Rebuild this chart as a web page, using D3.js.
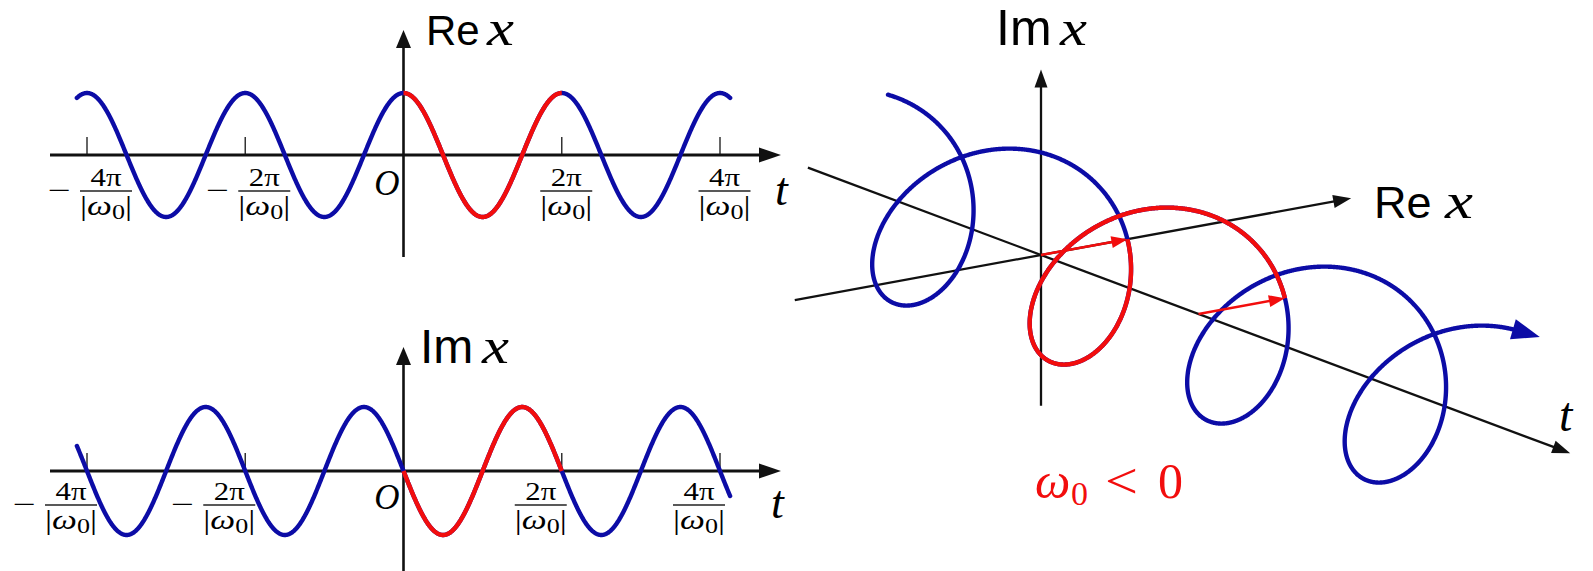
<!DOCTYPE html>
<html>
<head>
<meta charset="utf-8">
<script src="https://cdn.jsdelivr.net/npm/d3@7"></script>
<style>
  html, body { margin: 0; padding: 0; background: #ffffff; }
  svg { display: block; }
</style>
</head>
<body>
<svg id="fig" width="1593" height="571"></svg>
<script>
// ---- data -------------------------------------------------------------
// t is measured in periods, i.e. in units of 2π/|ω0|
const tickPeriods   = [-2, -1, 1, 2];
const tickNumerator = ["4π", "2π", "2π", "4π"];
const tickSign      = ["−", "−", "", ""];
const waveSpan      = [-2.064, 2.064];   // plotted span of the 2D waves
const highlightSpan = [0, 1];            // one period from t = 0, drawn in red
const helixSpan     = [-1.186, 2.815];   // plotted span of the helix
const reAxisSpan    = [-2.85, 3.59];     // 3D axis extents (in helix-radius units)
const tAxisSpan     = [-1.48, 3.36];     // (in periods)
const imAxisSpan    = [-1.65, 2.03];     // (in helix-radius units)
const omegaSign     = -1;                // ω0 < 0

// x(t) = exp(i ω0 t)
const reX = p => Math.cos(2 * Math.PI * p);
const imX = p => omegaSign * Math.sin(2 * Math.PI * p);

const BLUE = "#0c0ca6";
const RED  = "#f20d0d";
const INK  = "#111111";
const SANS = "'Liberation Sans', Arial, Helvetica, sans-serif";
const SERIF = "'Liberation Serif', 'Times New Roman', serif";

const svg = d3.select("#fig");
const line = d3.line().x(d => d[0]).y(d => d[1]);

function arrowHead(g, tip, dir, len, half, color) {
  const n = Math.hypot(dir[0], dir[1]);
  const ux = dir[0] / n, uy = dir[1] / n;
  const bx = tip[0] - ux * len, by = tip[1] - uy * len;
  const pts = [tip, [bx - uy * half, by + ux * half], [bx + uy * half, by - ux * half]];
  g.append("path").attr("d", "M" + pts.map(p => p.join(",")).join("L") + "Z")
    .attr("fill", color).attr("stroke", "none");
}

function arrow(g, from, to, color, width, len, half) {
  const dx = to[0] - from[0], dy = to[1] - from[1];
  const n = Math.hypot(dx, dy);
  const end = [to[0] - dx / n * len * 0.8, to[1] - dy / n * len * 0.8];
  g.append("path").attr("d", line([from, end]))
    .attr("stroke", color).attr("stroke-width", width).attr("fill", "none");
  arrowHead(g, to, [dx, dy], len, half, color);
}

// axis name: upright sans word followed by an italic x
function axisName(g, x, y, word, size, xPos, xSize, xWidth) {
  g.append("text").attr("x", x).attr("y", y)
    .attr("font-family", SANS).attr("font-size", size).attr("fill", "#000")
    .text(word);
  g.append("text").attr("x", xPos).attr("y", y)
    .attr("font-family", SERIF).attr("font-style", "italic")
    .attr("font-size", xSize).attr("fill", "#000")
    .attr("textLength", xWidth).attr("lengthAdjust", "spacingAndGlyphs")
    .text("x");
}

// ---- 2D wave panels ---------------------------------------------------
function wavePanel(cfg) {
  const g = svg.append("g");
  const x = d3.scaleLinear().domain([-2, 2]).range([87, 720]);
  const y = d3.scaleLinear().domain([-1, 1]).range([cfg.cy + cfg.amp, cfg.cy - cfg.amp]);
  const x0 = x(0);

  // ticks
  g.selectAll("line.tick").data(tickPeriods).join("line")
    .attr("class", "tick")
    .attr("x1", d => x(d)).attr("x2", d => x(d))
    .attr("y1", cfg.cy).attr("y2", cfg.cy - 18)
    .attr("stroke", "#333").attr("stroke-width", 1.5);

  // horizontal (t) axis
  arrow(g, [50, cfg.cy], [781, cfg.cy], INK, 3, 22, 7.5);
  // vertical axis
  arrow(g, [x0, cfg.vBottom], [x0, cfg.vTip], INK, 2.6, 18, 7.5);

  // curve
  const pts = d3.range(waveSpan[0], waveSpan[1] + 1e-9, 0.002).map(p => [x(p), y(cfg.fn(p))]);
  const red = d3.range(highlightSpan[0], highlightSpan[1] + 1e-9, 0.002).map(p => [x(p), y(cfg.fn(p))]);
  g.append("path").attr("d", line(pts)).attr("fill", "none")
    .attr("stroke", BLUE).attr("stroke-width", 4.4).attr("stroke-linecap", "round");
  g.append("path").attr("d", line(red)).attr("fill", "none")
    .attr("stroke", RED).attr("stroke-width", 4.4).attr("stroke-linecap", "butt");

  // tick labels  (−) 4π / |ω0|
  tickPeriods.forEach((p, i) => {
    const neg = p < 0;
    const cx = x(p) + (neg ? cfg.shiftNeg : cfg.shiftPos);
    const lg = g.append("g").attr("transform", `translate(${cx},${cfg.cy})`);
    lg.append("line").attr("x1", -26).attr("x2", 26)
      .attr("y1", cfg.barDy).attr("y2", cfg.barDy)
      .attr("stroke", "#222").attr("stroke-width", 1.4);
    lg.append("text").attr("x", 0).attr("y", cfg.barDy - 5)
      .attr("text-anchor", "middle").attr("font-family", SERIF).attr("font-size", 25)
      .attr("textLength", 31).attr("lengthAdjust", "spacingAndGlyphs")
      .text(tickNumerator[i]);
    const den = lg.append("text").attr("x", 0).attr("y", cfg.barDy + 24)
      .attr("text-anchor", "middle").attr("font-family", SERIF).attr("font-size", 27)
      .attr("textLength", 52).attr("lengthAdjust", "spacingAndGlyphs");
    den.append("tspan").text("|");
    den.append("tspan").attr("font-style", "italic").text("ω");
    den.append("tspan").attr("font-size", 20).attr("dy", 4).text("0");
    den.append("tspan").attr("dy", -4).text("|");
    if (tickSign[i]) {
      lg.append("text").attr("x", -58).attr("y", cfg.barDy + 8)
        .attr("font-family", SERIF).attr("font-size", 26)
        .attr("textLength", 23).attr("lengthAdjust", "spacingAndGlyphs")
        .text(tickSign[i]);
    }
  });

  // origin and t
  g.append("text").attr("x", x0 - 4).attr("y", cfg.cy + cfg.oDy)
    .attr("text-anchor", "end").attr("font-family", SERIF).attr("font-style", "italic")
    .attr("font-size", 35).text("O");
  g.append("text").attr("x", cfg.tX).attr("y", cfg.cy + cfg.tDy)
    .attr("font-family", SERIF).attr("font-style", "italic")
    .attr("font-size", 46).text("t");

  axisName(g, cfg.nameX, cfg.nameY, cfg.name, cfg.nameSize, cfg.xPos, 50, 27);
}

wavePanel({
  cy: 155, amp: 62, fn: reX, vBottom: 257, vTip: 30,
  shiftNeg: 19, shiftPos: 4.5, barDy: 36, oDy: 40, tX: 775, tDy: 50,
  name: "Re", nameX: 426, nameY: 45, nameSize: 42, xPos: 487
});
wavePanel({
  cy: 471, amp: 64, fn: imX, vBottom: 571, vTip: 347,
  shiftNeg: -16, shiftPos: -21, barDy: 34, oDy: 38, tX: 771, tDy: 47,
  name: "Im", nameX: 420, nameY: 363, nameSize: 48, xPos: 482
});

// ---- 3D helix ---------------------------------------------------------
const O3 = [1041, 255];
const Tvec = [157.5, 59];      // one period along t
const Rvec = [86.4, -15.8];    // unit of Re x
const Ivec = [0, -91.4];       // unit of Im x
const project = (t, re, im) => [
  O3[0] + t * Tvec[0] + re * Rvec[0] + im * Ivec[0],
  O3[1] + t * Tvec[1] + re * Rvec[1] + im * Ivec[1]
];

const g3 = svg.append("g");
arrow(g3, project(0, 0, imAxisSpan[0]), project(0, 0, imAxisSpan[1]), INK, 2.3, 18, 6.5);
arrow(g3, project(0, reAxisSpan[0], 0), project(0, reAxisSpan[1], 0), INK, 2.3, 18, 6.5);
arrow(g3, project(tAxisSpan[0], 0, 0), project(tAxisSpan[1], 0, 0), INK, 2.3, 18, 6.5);

const helixPt = p => project(p, reX(p), imX(p));
const blueHelix = d3.range(helixSpan[0], helixSpan[1] + 1e-9, 0.001).map(helixPt);
g3.append("path").attr("d", line(blueHelix)).attr("fill", "none")
  .attr("stroke", BLUE).attr("stroke-width", 4.4).attr("stroke-linecap", "round");
const redHelix = d3.range(highlightSpan[0], highlightSpan[1] + 1e-9, 0.001).map(helixPt);
g3.append("path").attr("d", line(redHelix)).attr("fill", "none")
  .attr("stroke", RED).attr("stroke-width", 4.4).attr("stroke-linecap", "butt");

// direction arrow at the end of the helix
{
  const a = helixPt(helixSpan[1] - 0.004), b = helixPt(helixSpan[1]);
  const d = [b[0] - a[0], b[1] - a[1]];
  const n = Math.hypot(d[0], d[1]);
  const tip = [b[0] + d[0] / n * 22, b[1] + d[1] / n * 22];
  arrowHead(g3, tip, d, 28, 10.5, BLUE);
}

// phasor arrows at t = 0 and one period later
highlightSpan.forEach(p => {
  arrow(g3, project(p, 0, 0), project(p, reX(p), imX(p)), RED, 2.4, 16, 6);
});

axisName(g3, 996, 45, "Im", 50, 1060, 50, 27);
axisName(g3, 1374, 218, "Re", 45, 1445, 50, 28);
g3.append("text").attr("x", 1559).attr("y", 431)
  .attr("font-family", SERIF).attr("font-style", "italic").attr("font-size", 48).text("t");

// ω0 < 0
const condY = 498;
g3.append("text").attr("x", 1035).attr("y", condY)
  .attr("font-family", SERIF).attr("font-style", "italic").attr("font-size", 50)
  .attr("fill", RED).text("ω");
g3.append("text").attr("x", 1071).attr("y", condY + 7)
  .attr("font-family", SERIF).attr("font-size", 34).attr("fill", RED).text("0");
g3.append("text").attr("x", 1105).attr("y", condY)
  .attr("font-family", SERIF).attr("font-size", 50)
  .attr("textLength", 33).attr("lengthAdjust", "spacingAndGlyphs")
  .attr("fill", RED).text("<");
g3.append("text").attr("x", 1158).attr("y", condY)
  .attr("font-family", SERIF).attr("font-size", 50).attr("fill", RED).text("0");
</script>
</body>
</html>
